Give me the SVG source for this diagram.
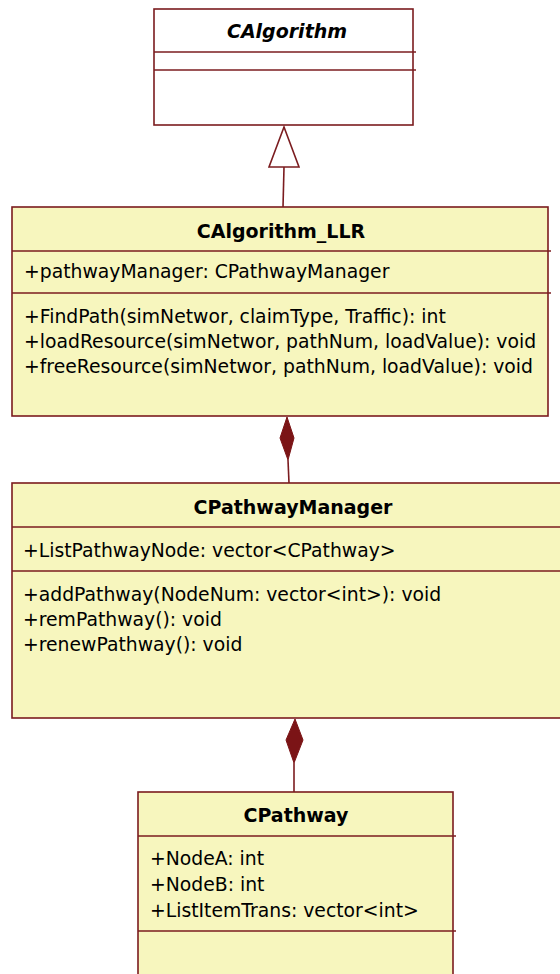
<svg xmlns="http://www.w3.org/2000/svg" width="560" height="974" viewBox="0 0 560 974">
<style>
.box{fill:#f7f6be;stroke:#7b1c1f;stroke-width:1.6}
.wbox{fill:#ffffff;stroke:#7b1c1f;stroke-width:1.6}
.div{stroke:#7b1c1f;stroke-width:1.6}
.conn{stroke:#7b1c1f;stroke-width:1.6;fill:none}
.t{font-family:"DejaVu Sans",Verdana,sans-serif;font-size:18.8px;fill:#000}
.h{font-family:"DejaVu Sans",Verdana,sans-serif;font-size:19px;font-weight:bold;fill:#000;text-anchor:middle}
</style>
<rect width="560" height="974" fill="#ffffff"/>
<g id="connectors">
<line class="conn" x1="284" y1="167" x2="283" y2="207"/>
<polygon points="284,127 269,167 299,167" fill="#ffffff" stroke="#7b1c1f" stroke-width="1.6"/>
<line class="conn" x1="288" y1="460" x2="289" y2="483"/>
<polygon points="287,417 294,438 288,460 280,438" fill="#7b1416" stroke="#7b1416" stroke-width="1"/>
<line class="conn" x1="294" y1="763" x2="294" y2="792"/>
<polygon points="295,719 303,740 294,763 286,740" fill="#7b1416" stroke="#7b1416" stroke-width="1"/>
</g>
<g id="CAlgorithm">
<rect class="wbox" x="154" y="9" width="259" height="116"/>
<line class="div" x1="154" y1="52" x2="416" y2="52"/>
<line class="div" x1="154" y1="70" x2="416" y2="70"/>
<text class="h" x="287" y="38" font-style="italic">CAlgorithm</text>
</g>
<g id="CAlgorithm_LLR">
<rect class="box" x="12" y="207" width="536" height="209"/>
<line class="div" x1="12" y1="251" x2="551" y2="251"/>
<line class="div" x1="12" y1="293" x2="551" y2="293"/>
<text class="h" x="281" y="238">CAlgorithm_LLR</text>
<text class="t" x="24" y="278">+pathwayManager: CPathwayManager</text>
<text class="t" x="24" y="323">+FindPath(simNetwor, claimType, Traffic): int</text>
<text class="t" x="24" y="348">+loadResource(simNetwor, pathNum, loadValue): void</text>
<text class="t" x="24" y="373">+freeResource(simNetwor, pathNum, loadValue): void</text>
</g>
<g id="CPathwayManager">
<rect class="box" x="12" y="483" width="560" height="235"/>
<line class="div" x1="12" y1="527" x2="560" y2="527"/>
<line class="div" x1="12" y1="571" x2="560" y2="571"/>
<text class="h" x="293" y="514">CPathwayManager</text>
<text class="t" x="23" y="557">+ListPathwayNode: vector&lt;CPathway&gt;</text>
<text class="t" x="23" y="601">+addPathway(NodeNum: vector&lt;int&gt;): void</text>
<text class="t" x="23" y="626">+remPathway(): void</text>
<text class="t" x="23" y="651">+renewPathway(): void</text>
</g>
<g id="CPathway">
<rect class="box" x="138" y="792" width="315" height="200"/>
<line class="div" x1="138" y1="836" x2="456" y2="836"/>
<line class="div" x1="138" y1="931" x2="456" y2="931"/>
<text class="h" x="296" y="822">CPathway</text>
<text class="t" x="150" y="865">+NodeA: int</text>
<text class="t" x="150" y="891">+NodeB: int</text>
<text class="t" x="150" y="917">+ListItemTrans: vector&lt;int&gt;</text>
</g>
</svg>
